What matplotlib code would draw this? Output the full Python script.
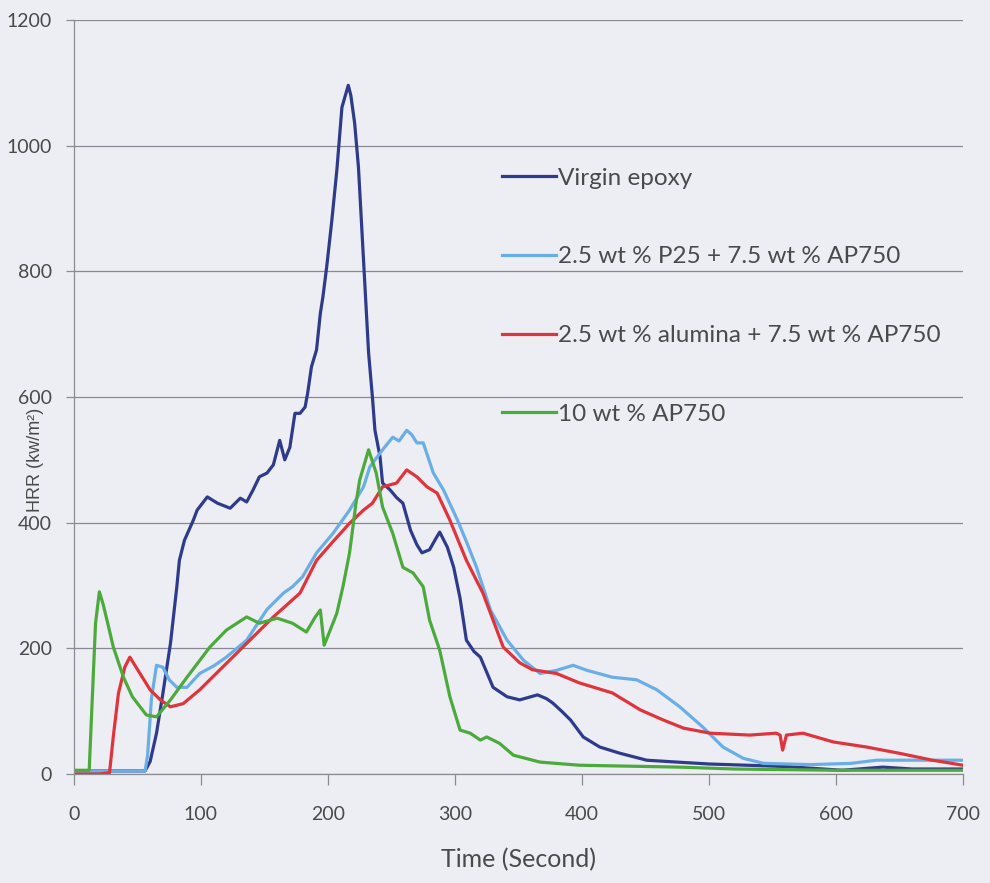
"""
Heat release rate curves (cone calorimeter) for epoxy formulations.
Writes out.png.
"""

import matplotlib.pyplot as plt
from matplotlib import font_manager

# virgin epoxy
t_virgin = [0, 30, 56, 60, 65, 70, 76, 81, 83, 87,
            94, 97, 105, 113, 123, 131, 136, 141, 146, 152,
            157, 162, 166, 170, 174, 178, 182, 184, 187, 191,
            194, 196, 199, 203, 207, 211, 216, 218, 221, 224,
            228, 232, 235, 237, 241, 243, 249, 254, 259, 265,
            270, 274, 280, 285, 288, 294, 299, 304, 309, 315,
            320, 330, 341, 351, 358, 365, 372, 377, 384, 391,
            401, 414, 430, 451, 475, 500, 560, 605, 637, 660,
            700]
v_virgin = [5, 5, 5, 20, 65, 128, 208, 298, 340, 372,
            404, 420, 441, 431, 423, 439, 433, 452, 473, 479,
            492, 531, 500, 520, 574, 574, 584, 606, 648, 675,
            733, 759, 807, 880, 961, 1061, 1096, 1080, 1036, 966,
            818, 670, 600, 547, 505, 463, 452, 440, 431, 388,
            365, 352, 357, 375, 385, 361, 329, 280, 213, 195,
            186, 138, 123, 118, 122, 126, 120, 113, 100, 86,
            59, 43, 33, 22, 19, 16, 12, 6, 11, 8,
            8]

# 2.5 wt % P25 + 7.5 wt % AP750
t_p25 = [0, 30, 56, 58, 61, 65, 70, 75, 81, 89,
         99, 110, 120, 136, 152, 165, 172, 180, 191, 204,
         217, 228, 233, 243, 251, 256, 262, 266, 270, 275,
         283, 291, 302, 309, 317, 328, 341, 354, 367, 380,
         393, 404, 424, 443, 459, 477, 495, 511, 527, 543,
         580, 612, 632, 658, 700]
v_p25 = [5, 5, 5, 30, 120, 173, 170, 150, 138, 138,
         160, 172, 186, 213, 262, 288, 298, 314, 352, 383,
         420, 457, 489, 516, 536, 530, 547, 540, 527, 527,
         479, 452, 404, 370, 329, 261, 213, 181, 160, 165,
         173, 165, 154, 150, 134, 107, 75, 43, 25, 17,
         15, 17, 22, 22, 22]

# 2.5 wt % alumina + 7.5 wt % AP750
t_alum = [0, 20, 28, 31, 35, 40, 44, 52, 60, 68,
          76, 86, 99, 115, 136, 157, 178, 191, 204, 217,
          228, 235, 243, 254, 262, 270, 278, 286, 296, 309,
          322, 338, 351, 361, 380, 398, 424, 446, 464, 480,
          501, 532, 553, 556, 558, 561, 574, 598, 624, 650,
          676, 700]
v_alum = [0, 0, 2, 60, 128, 170, 186, 160, 134, 118,
          107, 112, 134, 166, 208, 250, 288, 340, 370, 399,
          420, 431, 457, 463, 484, 473, 457, 447, 404, 340,
          288, 202, 177, 166, 160, 145, 129, 102, 86, 73,
          65, 62, 65, 62, 38, 62, 65, 51, 43, 33,
          22, 14]

# 10 wt % AP750
t_ap = [0, 12, 14, 17, 20, 23, 26, 31, 39, 46,
        57, 65, 76, 89, 107, 120, 136, 146, 160, 172,
        183, 190, 194, 197, 200, 207, 212, 217, 222, 225,
        232, 238, 243, 251, 259, 267, 275, 280, 288, 296,
        304, 312, 320, 325, 335, 346, 367, 398, 477, 520,
        600, 700]
v_ap = [6, 6, 100, 240, 290, 270, 245, 202, 154, 123,
        94, 91, 118, 154, 202, 229, 250, 240, 248, 240,
        226, 250, 261, 205, 220, 256, 300, 352, 430, 468,
        516, 479, 425, 383, 329, 320, 298, 245, 197, 123,
        70, 65, 54, 59, 49, 30, 19, 14, 11, 8,
        6, 6]

series = [
    ("Virgin epoxy", t_virgin, v_virgin, "#2f3b8a"),
    ("2.5 wt % P25 + 7.5 wt % AP750", t_p25, v_p25, "#6aaee6"),
    ("2.5 wt % alumina + 7.5 wt % AP750", t_alum, v_alum, "#e0343c"),
    ("10 wt % AP750", t_ap, v_ap, "#4caa3c"),
]

x_ticks = [0, 100, 200, 300, 400, 500, 600, 700]
y_ticks = [0, 200, 400, 600, 800, 1000, 1200]

BG = "#eceef3"
TXT = "#4a4a4a"

plt.rcParams["font.family"] = ["Lato", "DejaVu Sans"]

# narrow face for the y label if it is there, so it fits between two ticks
installed = {f.name for f in font_manager.fontManager.ttflist}
if "Liberation Sans Narrow" in installed:
    ylab_font, ylab_size = "Liberation Sans Narrow", 15.5
else:
    ylab_font, ylab_size = "Liberation Sans", 13

fig = plt.figure(figsize=(9.9, 8.83), dpi=100, facecolor=BG)
ax = fig.add_axes([0.0747, 0.1234, 0.898, 0.854], facecolor=BG)

for label, t, v, color in series:
    ax.plot(t, v, color=color, lw=2.3, label=label, solid_joinstyle="round")

ax.set_xlim(0, 700)
ax.set_ylim(0, 1200)
ax.set_xticks(x_ticks)
ax.set_yticks(y_ticks)
ax.grid(axis="y", color="#8c8794", lw=0.9)
ax.set_axisbelow(True)

for side in ["top", "right"]:
    ax.spines[side].set_visible(False)
for side in ["left", "bottom"]:
    ax.spines[side].set_color("#8c8c8c")
    ax.spines[side].set_linewidth(0.9)

ax.tick_params(axis="x", direction="out", length=8, width=0.9, color="#8c8c8c",
               labelsize=14, labelcolor=TXT, pad=15)
ax.tick_params(axis="y", direction="out", length=6, width=0.9, color="#8c8c8c",
               labelsize=14, labelcolor=TXT, pad=10)

ax.set_xlabel("Time (Second)", fontsize=18, color=TXT, labelpad=18)
# sits in the gap between the 400 and 600 tick labels
ax.set_ylabel("HRR (kw/m²)", fontsize=ylab_size, color=TXT,
              family=[ylab_font, "DejaVu Sans"])
ax.yaxis.set_label_coords(-0.034, 0.416)

ax.legend(loc="upper left", bbox_to_anchor=(0.457, 0.833), frameon=False,
          fontsize=17.5, handlelength=2.2, handletextpad=0.1,
          labelspacing=2.37, labelcolor=TXT)

fig.savefig("out.png", dpi=100, facecolor=BG)
